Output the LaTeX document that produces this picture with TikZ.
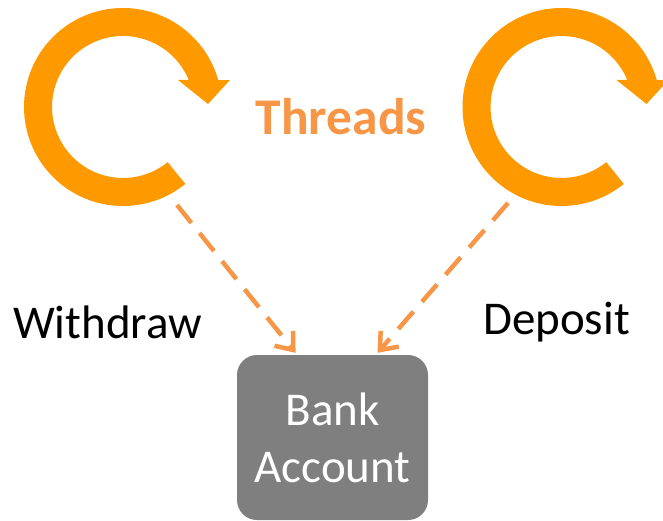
\documentclass[tikz,border=0pt]{standalone}
\usepackage{fontspec}
\setmainfont{Carlito}
\usetikzlibrary{arrows.meta,positioning}

\definecolor{loopor}{HTML}{FF9900}
\definecolor{linkor}{HTML}{F79646}
\definecolor{boxgray}{HTML}{7F7F7F}

\tikzset{
  loopband/.style={fill=loopor},
  link/.style={linkor,line width=4.5pt,dash pattern=on 23pt off 13pt,
    -{Straight Barb[length=15pt,width=24pt,line width=4.5pt]}},
  account/.style={fill=boxgray,rounded corners=20pt,text=white,align=center,
    minimum width=191pt,minimum height=165pt,inner sep=0pt,
    font=\fontsize{47}{57}\selectfont},
  label/.style={font=\fontsize{47}{57}\selectfont},
}

\begin{document}
\begin{tikzpicture}[x=1pt,y=1pt]
\useasboundingbox (0,0) rectangle (663,520);

% the two thread loops
\foreach \sx in {0,438.5}{
\fill[loopband,xshift=\sx] (123,413) ++(-51:99)
  arc[start angle=-51,end angle=-344.2,radius=99]
  -- (230,440) -- (208,416) -- (178,440) -- (188.7,440)
  arc[start angle=-337.65,end angle=-51,radius=71] -- cycle;
}

\node[font=\bfseries\fontsize{51.5}{60}\selectfont,text=linkor] (threads) at (341,403) {Threads};
\node[label] (withdraw) at (107.5,198) {Withdraw};
\node[label] (deposit) at (556.5,198) {Deposit};

\node[account] (bank) at (332.5,82.5) {Bank\\Account};

\coordinate (wout) at (177,315);
\coordinate (dout) at (508,317);

\draw[link] (wout) -- ([xshift=-37pt,yshift=2pt]bank.north);
\draw[link] (dout) -- ([xshift=45pt,yshift=2pt]bank.north);
\end{tikzpicture}
\end{document}
